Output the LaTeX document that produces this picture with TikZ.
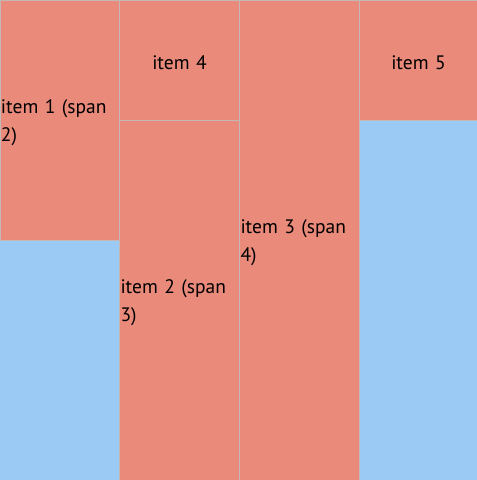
\documentclass[tikz,border=0pt]{standalone}
\usepackage{fontspec}
\setmainfont{PT Sans}
\definecolor{salmonc}{RGB}{233,138,122}
\definecolor{bluec}{RGB}{155,203,245}
\definecolor{edgec}{RGB}{196,184,182}
\begin{document}
\begin{tikzpicture}[x=1pt,y=-1pt,
  item/.style={draw=edgec, line width=1.2pt, fill=salmonc, inner sep=0.6pt,
    minimum width=#1, text width=#1-2pt, align=left, text height=19pt,
    font=\fontsize{19.5}{28}\selectfont, text=black},
  citem/.style={item=#1, align=center}]
\fill[bluec] (0,0) rectangle (477,480);
\useasboundingbox (0,0) rectangle (477,480);
\node[item=119.5pt, minimum height=239.5pt] (i1) at (59.75,120.5) {item 1 (span\\2)};
\node[citem=120pt, minimum height=119.5pt] (i4) at (179.5,60.5) {item 4};
\node[item=120pt, minimum height=359.5pt] (i2) at (179.5,300.5) {item 2 (span\\3)};
\node[item=120pt, minimum height=479.5pt] (i3) at (299.5,240.5) {item 3 (span\\4)};
\node[citem=118pt, minimum height=119.5pt] (i5) at (418.5,60.5) {item 5};
\end{tikzpicture}
\end{document}
